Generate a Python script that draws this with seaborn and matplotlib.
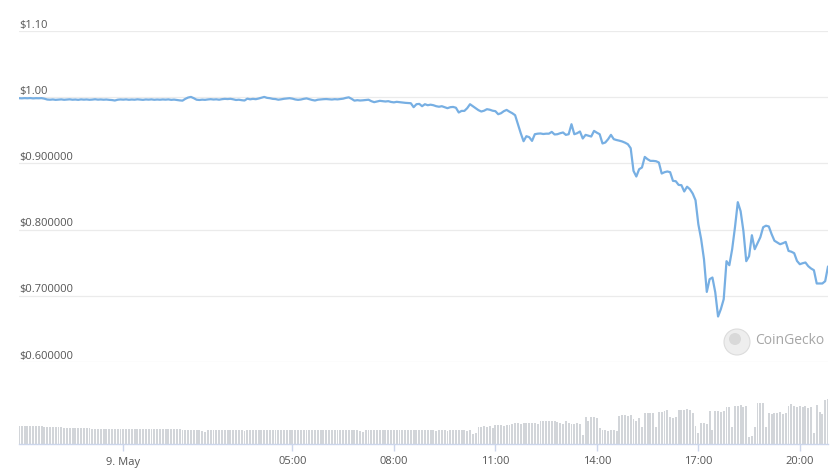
import matplotlib
matplotlib.use("Agg")
import matplotlib.pyplot as plt
from matplotlib.patches import Circle
import pandas as pd
import seaborn as sns

# 5-minute price samples, 20:55 on 8 May to 20:50 on 9 May
start_time = "2022-05-08 20:55"
price = [
    0.9985, 0.9983, 0.9986, 0.9984, 0.9987, 0.9982, 0.9985, 0.9984, 0.9986, 0.9978,
    0.9965, 0.9962, 0.9966, 0.9960, 0.9963, 0.9967, 0.9961, 0.9964, 0.9968, 0.9962,
    0.9965, 0.9960, 0.9967, 0.9963, 0.9966, 0.9961, 0.9964, 0.9969, 0.9963, 0.9966,
    0.9962, 0.9965, 0.9960, 0.9957, 0.9950, 0.9962, 0.9966, 0.9963, 0.9967, 0.9961,
    0.9965, 0.9962, 0.9968, 0.9964, 0.9960, 0.9966, 0.9963, 0.9967, 0.9961, 0.9965,
    0.9962, 0.9966, 0.9963, 0.9967, 0.9960, 0.9964, 0.9958, 0.9952, 0.9948, 0.9975,
    0.9995, 1.0004, 0.9985, 0.9962, 0.9958, 0.9963, 0.9960, 0.9966, 0.9970, 0.9965,
    0.9968, 0.9962, 0.9970, 0.9975, 0.9972, 0.9976, 0.9968, 0.9958, 0.9962, 0.9955,
    0.9950, 0.9978, 0.9968, 0.9975, 0.9970, 0.9980, 0.9992, 1.0004, 0.9990, 0.9985,
    0.9975, 0.9972, 0.9962, 0.9968, 0.9976, 0.9980, 0.9985, 0.9978, 0.9966, 0.9960,
    0.9965, 0.9975, 0.9982, 0.9970, 0.9958, 0.9950, 0.9962, 0.9966, 0.9970, 0.9972,
    0.9968, 0.9965, 0.9970, 0.9967, 0.9972, 0.9978, 0.9990, 0.9998, 0.9975, 0.9948,
    0.9955, 0.9950, 0.9953, 0.9958, 0.9962, 0.9940, 0.9925, 0.9935, 0.9945, 0.9940,
    0.9935, 0.9940, 0.9928, 0.9922, 0.9930, 0.9925, 0.9920, 0.9915, 0.9912, 0.9909,
    0.9849, 0.9894, 0.9899, 0.9864, 0.9894, 0.9879, 0.9887, 0.9879, 0.9864, 0.9856,
    0.9864, 0.9849, 0.9834, 0.9849, 0.9853, 0.9841, 0.9769, 0.9793, 0.9793, 0.9834,
    0.9894, 0.9864, 0.9834, 0.9804, 0.9784, 0.9796, 0.9819, 0.9811, 0.9796, 0.9789,
    0.9743, 0.9758, 0.9789, 0.9808, 0.9781, 0.9758, 0.9728, 0.9592, 0.9456, 0.9335,
    0.9411, 0.9396, 0.9340, 0.9441, 0.9449, 0.9452, 0.9444, 0.9449, 0.9449, 0.9476,
    0.9437, 0.9441, 0.9456, 0.9467, 0.9431, 0.9441, 0.9592, 0.9441, 0.9456, 0.9482,
    0.9376, 0.9431, 0.9418, 0.9406, 0.9491, 0.9464, 0.9441, 0.9301, 0.9316, 0.9366,
    0.9431, 0.9366, 0.9353, 0.9343, 0.9331, 0.9313, 0.9290, 0.9230, 0.8887, 0.8802,
    0.8912, 0.8938, 0.9098, 0.9063, 0.9038, 0.9038, 0.9033, 0.9014, 0.8847, 0.8867,
    0.8878, 0.8867, 0.8736, 0.8731, 0.8675, 0.8671, 0.8576, 0.8648, 0.8610, 0.8545,
    0.8444, 0.8082, 0.7855, 0.7553, 0.7059, 0.7251, 0.7276, 0.7054, 0.6687, 0.6800,
    0.6949, 0.7523, 0.7462, 0.7704, 0.8036, 0.8414, 0.8278, 0.7976, 0.7523, 0.7598,
    0.7915, 0.7704, 0.7795, 0.7885, 0.8036, 0.8059, 0.8047, 0.7931, 0.7832, 0.7805,
    0.7779, 0.7794, 0.7814, 0.7678, 0.7666, 0.7644, 0.7527, 0.7477, 0.7492, 0.7503,
    0.7447, 0.7412, 0.7387, 0.7186, 0.7186, 0.7186, 0.7221, 0.7443,
]

# traded volume per 5-minute bucket (relative units)
volume = [
    18, 18, 18, 18, 18, 18, 18, 18, 18, 17,
    17, 17, 17, 17, 17, 17, 16, 16, 16, 16,
    16, 16, 16, 16, 16, 16, 15, 15, 15, 15,
    15, 15, 15, 15, 15, 15, 15, 15, 15, 15,
    15, 15, 15, 15, 15, 15, 15, 15, 15, 15,
    15, 15, 15, 15, 15, 15, 15, 15, 14, 14,
    14, 14, 14, 14, 14, 13, 12, 14, 14, 14,
    14, 14, 14, 14, 14, 14, 14, 14, 14, 14,
    13, 14, 14, 14, 14, 14, 14, 14, 14, 14,
    14, 14, 14, 14, 14, 14, 14, 14, 14, 14,
    14, 14, 14, 14, 14, 14, 14, 14, 14, 14,
    14, 14, 14, 14, 14, 14, 14, 14, 14, 14,
    14, 13, 12, 14, 14, 14, 14, 14, 14, 14,
    14, 14, 14, 14, 14, 14, 14, 14, 14, 14,
    14, 14, 14, 14, 14, 14, 14, 14, 13, 14,
    14, 14, 13, 14, 14, 14, 14, 14, 14, 13,
    14, 10, 11, 17, 17, 18, 17, 18, 16, 19,
    19, 19, 18, 19, 19, 20, 21, 21, 20, 21,
    21, 21, 21, 21, 20, 23, 23, 23, 23, 23,
    23, 22, 21, 20, 23, 21, 20, 20, 21, 20,
    9, 27, 23, 27, 27, 26, 16, 14, 14, 13,
    14, 14, 13, 28, 29, 29, 28, 29, 25, 23,
    26, 17, 31, 31, 31, 31, 17, 32, 32, 33,
    34, 27, 26, 27, 34, 34, 34, 35, 34, 31,
    18, 11, 21, 21, 20, 33, 14, 33, 33, 32,
    33, 37, 37, 17, 38, 38, 39, 37, 38, 7,
    8, 17, 41, 41, 41, 17, 31, 30, 31, 31,
    32, 30, 31, 38, 40, 38, 37, 38, 37, 38,
    36, 37, 11, 39, 32, 30, 44, 45,
]

price_ticks = [0.6, 0.7, 0.8, 0.9, 1.0, 1.1]
price_tick_labels = ["$0.600000", "$0.700000", "$0.800000", "$0.900000", "$1.00", "$1.10"]
time_ticks = ["2022-05-09 00:00", "2022-05-09 05:00", "2022-05-09 08:00", "2022-05-09 11:00",
              "2022-05-09 14:00", "2022-05-09 17:00", "2022-05-09 20:00"]
time_tick_labels = ["9. May", "05:00", "08:00", "11:00", "14:00", "17:00", "20:00"]

df = pd.DataFrame({
    "time": pd.date_range(start_time, periods=len(price), freq="5min"),
    "price": price,
    "volume": volume,
})

sns.set_theme(style="white")
plt.rcParams["font.family"] = ["Open Sans", "DejaVu Sans"]

W, H = 837, 472
fig = plt.figure(figsize=(W / 100, H / 100), dpi=100)
fig.patch.set_facecolor("white")

LINE = "#77afe3"
TEXT = "#555555"
GRID = "#ebebeb"
AXIS = "#ccd6eb"
BAR = "#d2d5d9"

x0, x1 = df["time"].iloc[0], df["time"].iloc[-1]

# price panel
ax = fig.add_axes([19 / W, 1 - 362 / H, 809 / W, 331 / H])
sns.lineplot(data=df, x="time", y="price", ax=ax, color=LINE, linewidth=1.6)
ax.set_xlim(x0, x1)
ax.set_ylim(0.6, 1.1)
ax.set_yticks(price_ticks)
ax.grid(axis="y", color=GRID, lw=0.9)
ax.grid(axis="x", visible=False)
ax.tick_params(left=False, bottom=False, labelleft=False, labelbottom=False)
ax.set_xlabel("")
ax.set_ylabel("")
for s in ax.spines.values():
    s.set_visible(False)
for v, lab in zip(price_ticks, price_tick_labels):
    ax.annotate(lab, xy=(0, v), xycoords=("axes fraction", "data"),
                xytext=(0, 2.5), textcoords="offset points",
                ha="left", va="baseline", fontsize=8, color=TEXT)

# volume panel
vax = fig.add_axes([19 / W, 1 - 444 / H, 809 / W, 50 / H])
vax.bar(df["time"], df["volume"], width=pd.Timedelta(minutes=3.4), color=BAR,
        align="center", linewidth=0)
vax.set_xlim(x0, x1)
vax.set_ylim(0, 50)
vax.set_yticks([])
for k, s in vax.spines.items():
    s.set_visible(k == "bottom")
vax.spines["bottom"].set_color(AXIS)
vax.spines["bottom"].set_linewidth(1)
vax.set_xticks(pd.to_datetime(time_ticks))
vax.set_xticklabels(time_tick_labels)
vax.tick_params(axis="x", bottom=True, length=5, width=1, color=AXIS,
                labelsize=8, labelcolor=TEXT, pad=4)
vax.set_facecolor("none")

# watermark
fig.add_artist(Circle((737 / 100, (H - 342) / 100), 0.13, transform=fig.dpi_scale_trans,
                      facecolor="#eeeeee", edgecolor="#dcdcdc", lw=0.8, zorder=5))
fig.add_artist(Circle((735 / 100, (H - 339) / 100), 0.06, transform=fig.dpi_scale_trans,
                      facecolor="#d9d9d9", edgecolor="none", zorder=6))
fig.text(755 / W, 1 - 341 / H, "CoinGecko", fontsize=10, color="#a6a6a6",
         ha="left", va="center")

fig.savefig("out.png", dpi=100, facecolor="white")
